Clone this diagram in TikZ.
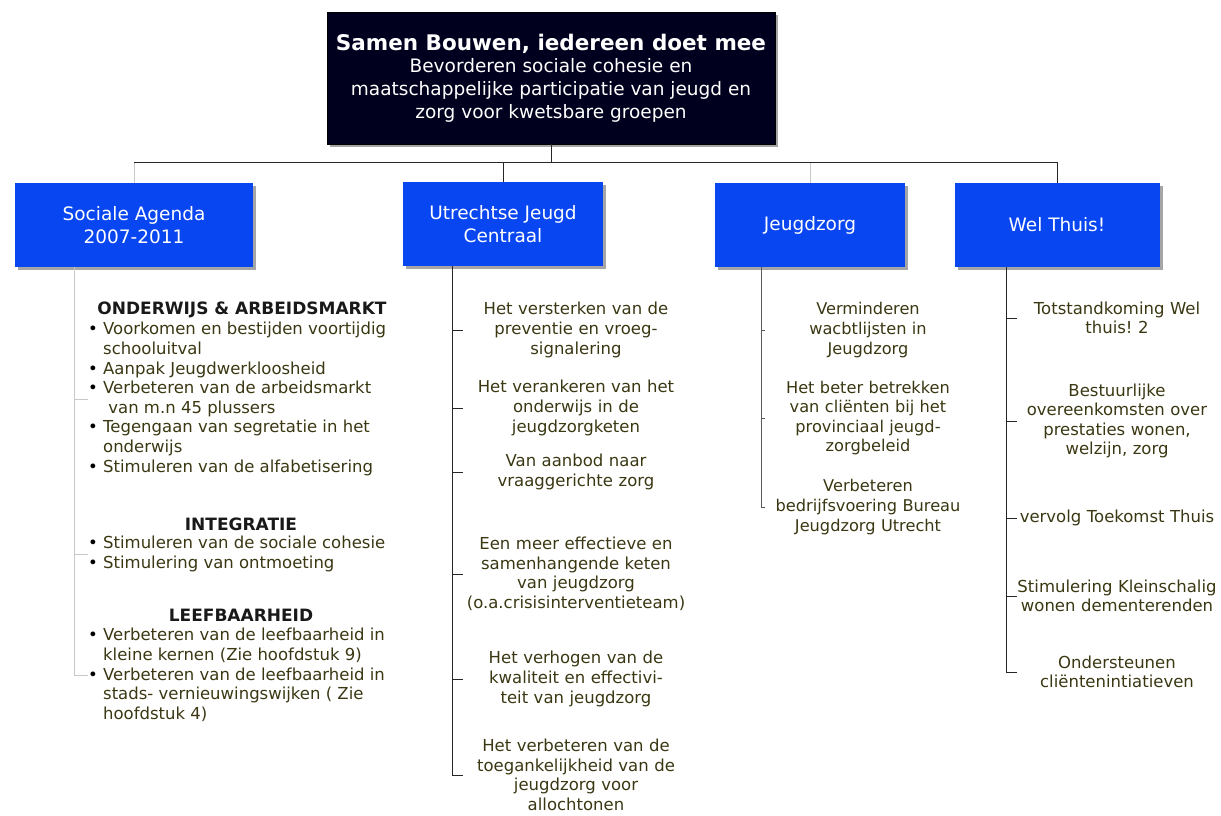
\documentclass[tikz,border=0pt]{standalone}
\usepackage{fontspec}
\setmainfont{DejaVu Sans}
\usetikzlibrary{positioning, calc, shadows}
\definecolor{rootfill}{HTML}{00001E}
\definecolor{headblue}{HTML}{0846F2}
\definecolor{leafink}{HTML}{3A3712}
\definecolor{faint}{HTML}{C8C8C8}
\frenchspacing
\tikzset{
  rootbox/.style={
    rectangle, draw=black, fill=rootfill, text=white,
    minimum width=448pt, minimum height=132pt,
    align=center, inner sep=2pt, font=\fontsize{18.5}{22.8}\selectfont,
    drop shadow={shadow xshift=3pt, shadow yshift=-3pt, fill=black!70},
  },
  headbox/.style={
    rectangle, fill=headblue, text=white,
    minimum height=84pt, align=center, inner sep=2pt,
    font=\fontsize{18.5}{23}\selectfont,
    drop shadow={shadow xshift=3pt, shadow yshift=-3pt, fill=black!70},
  },
  leaf/.style={
    inner sep=0pt, align=center, text=leafink,
    font=\fontsize{16.5}{19.6}\selectfont,
  },
  listleaf/.style={
    inner sep=0pt, align=left, text=leafink, anchor=west,
    font=\fontsize{16.5}{19.6}\selectfont,
  },
  sechead/.style={
    inner sep=0pt, text=black!90, font=\fontsize{17}{19.6}\selectfont\bfseries,
  },
  link/.style={draw=black!85, line width=1pt},
  faintlink/.style={draw=faint, line width=1pt},
}
\newcommand{\bul}{{\color{black}\textbullet}\ }
\newcommand{\nobul}{\hphantom{\textbullet\ }}

\begin{document}
\begin{tikzpicture}[x=1pt, y=-1pt]
  \useasboundingbox (0,0) rectangle (1221,815);

  % top
  \node[rootbox] (root) at (551,78) {{\fontsize{21.5}{26}\selectfont\bfseries Samen Bouwen, iedereen doet mee}\\
    Bevorderen sociale cohesie en\\
    maatschappelijke participatie van jeugd en\\
    zorg voor kwetsbare groepen};

  % four themes
  \node[headbox, minimum width=238pt] (sa) at (134,225)  {Sociale Agenda\\2007-2011};
  \node[headbox, minimum width=200pt] (ut) at (503,224)  {Utrechtse Jeugd\\Centraal};
  \node[headbox, minimum width=190pt] (jz) at (810,225)  {Jeugdzorg};
  \node[headbox, minimum width=205pt] (wt) at (1057,225) {Wel Thuis!};

  \draw[link] (root.south) -- ($(root.south |- sa.north)+(0,-20)$);
  \draw[link] (sa.north) ++(0,-20) -| (wt.north);
  \draw[faintlink] (sa.north) -- ++(0,-20);
  \draw[link] (ut.north) -- ++(0,-20);
  \draw[faintlink] (jz.north) -- ++(0,-20);

  % Sociale Agenda
  \node[sechead] (h1) at (242,310) {ONDERWIJS \& ARBEIDSMARKT};
  \node[listleaf] (l1) at (88,399) {\bul Voorkomen en bestijden voortijdig\\
    \nobul schooluitval\\
    \bul Aanpak Jeugdwerkloosheid\\
    \bul Verbeteren van de arbeidsmarkt\\
    \nobul\ van m.n 45 plussers\\
    \bul Tegengaan van segretatie in het\\
    \nobul onderwijs\\
    \bul Stimuleren van de alfabetisering};
  \node[sechead] (h2) at (241,524) {INTEGRATIE};
  \node[listleaf] (l2) at (88,554) {\bul Stimuleren van de sociale cohesie\\
    \bul Stimulering van ontmoeting};
  \node[sechead] (h3) at (241,615) {LEEFBAARHEID};
  \node[listleaf] (l3) at (88,675) {\bul Verbeteren van de leefbaarheid in\\
    \nobul kleine kernen (Zie hoofdstuk 9)\\
    \bul Verbeteren van de leefbaarheid in\\
    \nobul stads- vernieuwingswijken ( Zie\\
    \nobul hoofdstuk 4)};
  \foreach \n in {l1,l2,l3}
    \draw[faintlink] ([xshift=60pt]sa.south west) |- (\n.west);

  % Utrechtse Jeugd Centraal
  \begin{scope}[every node/.style={leaf, text width=226pt}]
    \node (u1) at (576,330) {Het versterken van de\\preventie en vroeg-\\signalering};
    \node (u2) at (576,408) {Het verankeren van het\\onderwijs in de\\jeugdzorgketen};
    \node (u3) at (576,472) {Van aanbod naar\\vraaggerichte zorg};
    \node (u4) at (576,574) {Een meer effectieve en\\samenhangende keten\\van jeugdzorg\\(o.a.crisisinterventieteam)};
    \node (u5) at (576,679) {Het verhogen van de\\kwaliteit en effectivi-\\teit van jeugdzorg};
    \node (u6) at (576,775) {Het verbeteren van de\\toegankelijkheid van de\\jeugdzorg voor\\allochtonen};
  \end{scope}
  \foreach \n in {u1,u2,u3,u4,u5,u6}
    \draw[link] ([xshift=50pt]ut.south west) |- (\n.west);

  % Jeugdzorg
  \begin{scope}[every node/.style={leaf, text width=206pt, font=\fontsize{16.2}{19.6}\selectfont}]
    \node (j1) at (868,330) {Verminderen\\wacbtlijsten in\\Jeugdzorg};
    \node (j2) at (868,418) {Het beter betrekken\\van cliënten bij het\\provinciaal jeugd-\\zorgbeleid};
    \node (j3) at (868,507) {Verbeteren\\bedrijfsvoering Bureau\\Jeugdzorg Utrecht};
  \end{scope}
  \foreach \n in {j1,j2,j3}
    \draw[link, draw=black!65] ([xshift=47pt]jz.south west) |- (\n.west);

  % Wel Thuis!
  \begin{scope}[every node/.style={leaf, text width=200pt}]
    \node (w1) at (1117,318) {Totstandkoming Wel\\thuis! 2};
    \node (w2) at (1117,421) {Bestuurlijke\\overeenkomsten over\\prestaties wonen,\\welzijn, zorg};
    \node (w3) at (1117,518) {vervolg Toekomst Thuis};
    \node (w4) at (1117,596) {Stimulering Kleinschalig\\wonen dementerenden};
    \node (w5) at (1117,672) {Ondersteunen\\cliëntenintiatieven};
  \end{scope}
  \foreach \n in {w1,w2,w3,w4,w5}
    \draw[link] ([xshift=52pt]wt.south west) |- (\n.west);

\end{tikzpicture}
\end{document}
